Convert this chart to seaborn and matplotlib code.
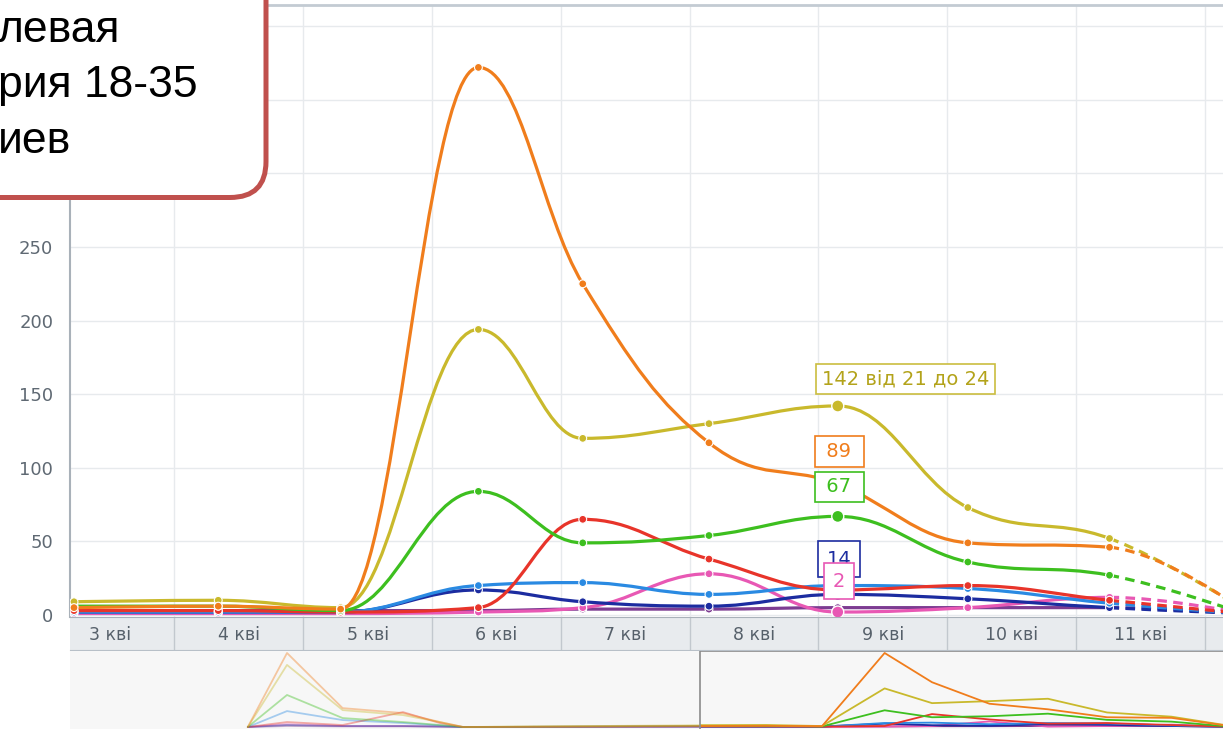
import numpy as np
import pandas as pd
import matplotlib
matplotlib.use("Agg")
import matplotlib.pyplot as plt
import seaborn as sns
from matplotlib.path import Path
from matplotlib.patches import PathPatch, FancyBboxPatch

# x positions of the points, in days of April
day_x = [3.22, 4.34, 5.29, 6.36, 7.17, 8.15, 9.15, 10.16, 11.26, 12.30]
day_labels = ["3 кві", "4 кві", "5 кві", "6 кві", "7 кві", "8 кві", "9 кві", "10 кві", "11 кві"]
day_starts = [3, 4, 5, 6, 7, 8, 9, 10, 11]
y_ticks = [0, 50, 100, 150, 200, 250, 300, 350, 400]
y_labels = ["0", "50", "100", "150", "200", "250", "", "", ""]  # the rest sit under the callout

orange = [5, 6, 4, 372, 225, 117, 89, 49, 46, 3]
yellow = [9, 10, 5, 194, 120, 130, 142, 73, 52, 4]
green = [6, 6, 3, 84, 49, 54, 67, 36, 27, 1]
red = [3, 3, 2, 5, 65, 38, 17, 20, 10, 1]
light_blue = [2, 2, 2, 20, 22, 14, 20, 18, 8, 1]
dark_blue = [2, 2, 2, 17, 9, 6, 14, 11, 5, 1]
pink = [1, 1, 1, 2, 5, 28, 2, 5, 12, 1]
purple = [3, 3, 3, 3, 4, 4, 5, 5, 5, 1]

# earlier period, only visible in the navigator
early_x = [-4.52, -3.85, -2.90, -1.87, -1.24, -0.84]
orange_early = [0, 372, 95, 70, 25, 0]
yellow_early = [0, 312, 85, 60, 25, 0]
green_early = [0, 161, 45, 25, 10, 0]
red_early = [0, 25, 10, 75, 20, 0]
light_blue_early = [0, 80, 35, 20, 8, 0]
dark_blue_early = [0, 10, 5, 5, 2, 0]
pink_early = [0, 15, 5, 5, 3, 0]
purple_early = [0, 5, 3, 3, 2, 0]

hover_labels = ["89", "67", "14", "2"]

colors = {
    "purple": "#7d3c92",
    "pink": "#e858b4",
    "dark_blue": "#1c2ca0",
    "light_blue": "#2a8ae2",
    "red": "#e8342a",
    "green": "#3dbf1f",
    "yellow": "#c9b92c",
    "orange": "#f07d1c",
}
series = {
    "purple": (purple, purple_early),
    "pink": (pink, pink_early),
    "dark_blue": (dark_blue, dark_blue_early),
    "light_blue": (light_blue, light_blue_early),
    "red": (red, red_early),
    "green": (green, green_early),
    "yellow": (yellow, yellow_early),
    "orange": (orange, orange_early),
}


def spline_controls(xs, ys, smoothing=1.5):
    # control points like a highcharts spline
    ctrl = []
    n = len(xs)
    for i in range(n):
        x, y = xs[i], ys[i]
        if i == 0 or i == n - 1:
            ctrl.append(((x, y), (x, y)))
            continue
        lx, ly = xs[i - 1], ys[i - 1]
        nx, ny = xs[i + 1], ys[i + 1]
        d = smoothing + 1
        lcx = (smoothing * x + lx) / d
        lcy = (smoothing * y + ly) / d
        rcx = (smoothing * x + nx) / d
        rcy = (smoothing * y + ny) / d
        corr = (rcy - lcy) * (rcx - x) / (rcx - lcx) + y - rcy
        lcy += corr
        rcy += corr
        if lcy > ly and lcy > y:
            lcy = max(ly, y)
            rcy = 2 * y - lcy
        elif lcy < ly and lcy < y:
            lcy = min(ly, y)
            rcy = 2 * y - lcy
        if rcy > ny and rcy > y:
            rcy = max(ny, y)
            lcy = 2 * y - rcy
        elif rcy < ny and rcy < y:
            rcy = min(ny, y)
            lcy = 2 * y - rcy
        ctrl.append(((lcx, lcy), (rcx, rcy)))
    return ctrl


sns.set_style("white")
plt.rcParams['font.family'] = ['DejaVu Sans']

W, H = 1223, 729
fig = plt.figure(figsize=(W / 100, H / 100), dpi=100)
ax = fig.add_axes([70 / W, 112 / H, 1153 / W, 612 / H])
ax_band = fig.add_axes([70 / W, 79 / H, 1153 / W, 33 / H])
ax_nav = fig.add_axes([70 / W, 0, 1153 / W, 78 / H])

xmin, xmax = 3.189, 12.141

# main chart
ax.set_xlim(xmin, xmax)
ax.set_ylim(-1.36, 414.4)
ax.set_xticks(range(4, 13))
ax.set_xticklabels([])
ax.set_yticks(y_ticks)
ax.set_yticklabels(y_labels)
ax.grid(True, color="#e7eaed", lw=1)
ax.set_axisbelow(True)
ax.tick_params(axis="x", length=0)
ax.tick_params(axis="y", length=5, width=1, color="#a9b1b9", pad=7,
               labelsize=13, labelcolor="#5f6973")
for s in ["right", "bottom"]:
    ax.spines[s].set_visible(False)
ax.spines["left"].set_color("#a9b1b9")
ax.spines["left"].set_linewidth(1.5)
ax.spines["top"].set_color("#c3cbd3")
ax.spines["top"].set_linewidth(2)

for name, (vals, _) in series.items():
    ctrl = spline_controls(day_x, vals)
    verts = [(day_x[0], vals[0])]
    codes = [Path.MOVETO]
    for i in range(1, len(day_x) - 1):
        verts += [ctrl[i - 1][1], ctrl[i][0], (day_x[i], vals[i])]
        codes += [Path.CURVE4] * 3
    ax.add_patch(PathPatch(Path(verts, codes), fill=False, ec=colors[name], lw=2.3,
                           capstyle="round", joinstyle="round", zorder=3))
    k = len(day_x) - 1
    dverts = [(day_x[k - 1], vals[k - 1]), ctrl[k - 1][1], ctrl[k][0], (day_x[k], vals[k])]
    dcodes = [Path.MOVETO] + [Path.CURVE4] * 3
    ax.add_patch(PathPatch(Path(dverts, dcodes), fill=False, ec=colors[name], lw=2.3,
                           linestyle=(0, (3, 2)), zorder=3))

rows = []
for name, (vals, _) in series.items():
    for x, v in zip(day_x, vals):
        rows.append({"day": x, "value": v, "series": name})
points = pd.DataFrame(rows)
sns.scatterplot(data=points, x="day", y="value", hue="series", palette=colors, s=32,
                edgecolor="white", linewidth=0.8, legend=False, ax=ax, zorder=4)
hover = points[(points["day"] == day_x[6]) &
               points["series"].isin(["yellow", "orange", "green", "dark_blue", "pink"])]
sns.scatterplot(data=hover, x="day", y="value", hue="series", palette=colors, s=75,
                edgecolor="white", linewidth=1, legend=False, ax=ax, zorder=5)
ax.set_xlabel("")
ax.set_ylabel("")

# tooltips at 9 кві
ax.text(9.028, 160.3, "142 від 21 до 24", ha="left", va="center", fontsize=14,
        color="#b3a31a", zorder=6,
        bbox=dict(boxstyle="square,pad=0.3", fc="white", ec="#cbbd40", lw=1.2))
tip_specs = [(" " + hover_labels[0] + " ", 111, "orange", 0.3),
             (" " + hover_labels[1] + " ", 87, "green", 0.3),
             (hover_labels[2], 38, "dark_blue", 0.45),
             (hover_labels[3], 23, "pink", 0.45)]
for txt, yv, name, pad in tip_specs:
    ax.text(9.16, yv, txt, ha="center", va="center", fontsize=14,
            color=colors[name], zorder=6,
            bbox=dict(boxstyle="square,pad=%s" % pad, fc="white", ec=colors[name], lw=1.2))

# date band
ax_band.set_xlim(xmin, xmax)
ax_band.set_ylim(0, 1)
ax_band.set_facecolor("#e8ebee")
ax_band.set_xticks([])
ax_band.set_yticks([])
ax_band.vlines(range(4, 13), 0, 1, color="#c2c8ce", lw=1)
for d, lab in zip(day_starts, day_labels):
    ax_band.text(d + 0.5, 0.45, lab, ha="center", va="center", fontsize=12.5, color="#56606a")
for s in ["left", "right"]:
    ax_band.spines[s].set_visible(False)
ax_band.spines["top"].set_color("#a9b1b9")
ax_band.spines["bottom"].set_color("#b8c0c8")

# navigator
nav_left = xmin - (699 - 70) / 58.53
ax_nav.set_xlim(nav_left, xmax)
ax_nav.set_ylim(-10, 382)
ax_nav.set_facecolor("#f7f7f7")
ax_nav.set_xticks([])
ax_nav.set_yticks([])
for s in ax_nav.spines.values():
    s.set_visible(False)
rows_e, rows_m = [], []
for name, (vals, early) in series.items():
    for x, v in zip(early_x + day_x[:1], early + vals[:1]):
        rows_e.append({"day": x, "value": v, "series": name})
    for x, v in zip(day_x, vals):
        rows_m.append({"day": x, "value": v, "series": name})
sns.lineplot(data=pd.DataFrame(rows_e), x="day", y="value", hue="series", palette=colors,
             estimator=None, sort=False, lw=1.3, alpha=0.4, legend=False, ax=ax_nav)
sns.lineplot(data=pd.DataFrame(rows_m), x="day", y="value", hue="series", palette=colors,
             estimator=None, sort=False, lw=1.3, legend=False, ax=ax_nav)
ax_nav.plot([xmin + 0.01, xmin + 0.01, xmax], [-10, 381, 381], color="#8c8c8c", lw=1.2)
ax_nav.set_xlabel("")
ax_nav.set_ylabel("")

# callout box on top
box = FancyBboxPatch((-0.5, 5.315), 3.16, 3.0, boxstyle="round,pad=0,rounding_size=0.36",
                     transform=fig.dpi_scale_trans, fc="white", ec="#c0504d", lw=3.6, zorder=10)
fig.add_artist(box)
for txt, base in [("левая", 42), ("рия 18-35", 97), ("иев", 153)]:
    fig.text(-0.02, (H - base) / 100, txt, transform=fig.dpi_scale_trans, va="baseline",
             ha="left", fontsize=32, family="Liberation Sans", color="black", zorder=11)

fig.savefig("out.png", dpi=100)
